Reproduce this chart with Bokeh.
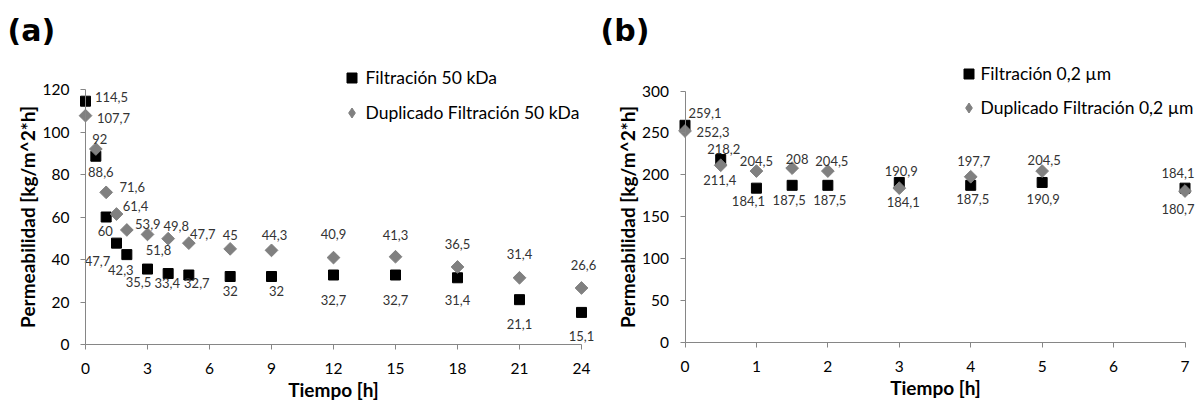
import math
from bokeh.plotting import figure
from bokeh.models import (Range1d, FixedTicker, Legend, LegendItem, Label,
                          ColumnDataSource)
from bokeh.core.properties import value
from bokeh.layouts import row
from bokeh.embed import file_html
from bokeh.resources import INLINE

# ---------------- data: chart (a) ----------------
time_a = [0, 0.5, 1, 1.5, 2, 3, 4, 5, 7, 9, 12, 15, 18, 21, 24]
filt_50 = [114.5, 88.6, 60, 47.7, 42.3, 35.5, 33.4, 32.7, 32, 32, 32.7, 32.7, 31.4, 21.1, 15.1]
dup_50 = [107.7, 92, 71.6, 61.4, 53.9, 51.8, 49.8, 47.7, 45, 44.3, 40.9, 41.3, 36.5, 31.4, 26.6]
xticks_a = [0, 3, 6, 9, 12, 15, 18, 21, 24]
yticks_a = [0, 20, 40, 60, 80, 100, 120]
names_a = ["Filtración 50 kDa", "Duplicado Filtración 50 kDa"]

# ---------------- data: chart (b) ----------------
time_b = [0, 0.5, 1, 1.5, 2, 3, 4, 5, 7]
filt_02 = [259.1, 218.2, 184.1, 187.5, 187.5, 190.9, 187.5, 190.9, 184.1]
dup_02 = [252.3, 211.4, 204.5, 208, 204.5, 184.1, 197.7, 204.5, 180.7]
xticks_b = [0, 1, 2, 3, 4, 5, 6, 7]
yticks_b = [0, 50, 100, 150, 200, 250, 300]
names_b = ["Filtración 0,2 µm", "Duplicado Filtración 0,2 µm"]

# ---------------- label placement (pixel offsets, styling only) ----------------
off_sq_a = [(26, -4), (5, 16), (-1, 14), (-19, 18), (-6, 15), (-9, 13), (-1, 9), (8, 8),
            (0, 14), (5, 14), (0, 25), (0, 25), (0, 22), (0, 24), (0, 24)]
off_di_a = [(28, 2), (4, -10), (26, -5), (19, -8), (21, -6), (11, 16), (8, -13), (14, -9),
            (0, -14), (3, -15), (0, -24), (0, -22), (0, -23), (0, -24), (2, -23)]
off_sq_b = [(20, -12), (3, -11), (-8, 13), (-3, 15), (2, 15), (2, -11), (2, 14), (1, 17), (-7, -15)]
off_di_b = [(28, 1), (-1, 15), (0, -10), (5, -9), (4, -10), (4, 14), (3, -16), (2, -11), (-7, 18)]

FONT = "Lato"
AXIS_COL = "#868686"
GRAY = "#808080"
W, H = 600, 400


def fmt(v):
    if float(v).is_integer():
        return str(int(v))
    return ("%.1f" % v).replace(".", ",")


def make_chart(t, s1, s2, names, xticks, yticks, off1, off2, tag,
               x0_px, xmax_px, y0_px, ymax_px,
               leg_x, leg_y, leg_spacing, leg_standoff, tag_x, tag_y):
    xmax = xticks[-1]
    ymax = yticks[-1]
    ppx = (xmax_px - x0_px) / xmax
    ppy = (y0_px - ymax_px) / ymax
    x_start = -x0_px / ppx
    x_end = xmax + (W - xmax_px) / ppx
    y_start = -(H - y0_px) / ppy
    y_end = ymax + ymax_px / ppy

    p = figure(width=W, height=H, x_range=Range1d(x_start, x_end),
               y_range=Range1d(y_start, y_end), toolbar_location=None,
               output_backend="svg", min_border_left=0, min_border_right=0,
               min_border_top=0, min_border_bottom=0, outline_line_color=None,
               background_fill_color="white", border_fill_color="white")
    p.xgrid.visible = False
    p.ygrid.visible = False

    for ax, ticks, bnd in ((p.xaxis[0], xticks, xmax), (p.yaxis[0], yticks, ymax)):
        ax.ticker = FixedTicker(ticks=ticks)
        ax.bounds = (0, bnd)
        ax.fixed_location = 0
        ax.axis_line_color = AXIS_COL
        ax.major_tick_line_color = AXIS_COL
        ax.major_tick_out = 5
        ax.major_tick_in = 0
        ax.minor_tick_out = 0
        ax.minor_tick_in = 0
        ax.major_label_text_font = FONT
        ax.major_label_text_font_size = "15.5px"
        ax.major_label_text_color = "#000000"
        ax.axis_label_text_font = FONT
        ax.axis_label_text_font_style = "bold"
        ax.axis_label_text_font_size = "19px"
        ax.axis_label_text_color = "#000000"
    p.xaxis[0].axis_label = "Tiempo [h]"
    p.xaxis[0].major_label_standoff = 13
    p.xaxis[0].axis_label_standoff = 1
    p.yaxis[0].axis_label = "Permeabilidad [kg/m^2*h]"
    p.yaxis[0].major_label_standoff = 11
    p.yaxis[0].axis_label_standoff = 1

    r1 = p.scatter(t, s1, marker="square", size=10, fill_color="black",
                   line_color="black")
    p.scatter(t, s2, marker="square", size=9, angle=math.pi / 4,
              fill_color=GRAY, line_color=GRAY)
    # legend key for the diamond series (legend keys ignore marker rotation)
    key2 = p.scatter(x=[float("nan")], y=[float("nan")], marker="diamond",
                     fill_color=GRAY, line_color=GRAY)

    for vals, offs in ((s1, off1), (s2, off2)):
        src = ColumnDataSource(dict(x=t, y=vals, txt=[fmt(v) for v in vals],
                                    dx=[o[0] for o in offs], dy=[o[1] for o in offs]))
        p.text(x="x", y="y", text="txt", x_offset="dx", y_offset="dy", source=src,
               text_align="center", text_baseline="middle",
               text_font=value(FONT), text_font_size="13px", text_color="#333333")

    legend = Legend(items=[LegendItem(label=names[0], renderers=[r1]),
                           LegendItem(label=names[1], renderers=[key2])],
                    location=(leg_x, leg_y), orientation="vertical",
                    background_fill_alpha=0, border_line_alpha=0,
                    padding=0, margin=0, spacing=leg_spacing,
                    glyph_width=25, glyph_height=25, label_height=25,
                    label_standoff=leg_standoff, label_text_font=FONT,
                    label_text_font_size="17.5px", label_text_color="#000000")
    p.add_layout(legend)

    p.add_layout(Label(x=tag_x, y=tag_y, x_units="screen", y_units="screen",
                       text=tag, text_font="DejaVu Sans", text_font_style="bold",
                       text_font_size="30px", text_baseline="middle",
                       text_color="#000000"))
    return p


pa = make_chart(time_a, filt_50, dup_50, names_a, xticks_a, yticks_a, off_sq_a, off_di_a,
                "(a)", x0_px=85, xmax_px=581, y0_px=344, ymax_px=89,
                leg_x=338.5, leg_y=275.5, leg_spacing=10, leg_standoff=2,
                tag_x=7, tag_y=370)
pb = make_chart(time_b, filt_02, dup_02, names_b, xticks_b, yticks_b, off_sq_b, off_di_b,
                "(b)", x0_px=84.5, xmax_px=584.5, y0_px=342, ymax_px=90.5,
                leg_x=355.5, leg_y=280.5, leg_spacing=9, leg_standoff=0,
                tag_x=0, tag_y=370)

layout = row(pa, pb, spacing=0)
open("out.html", "w").write(file_html(layout, INLINE))
